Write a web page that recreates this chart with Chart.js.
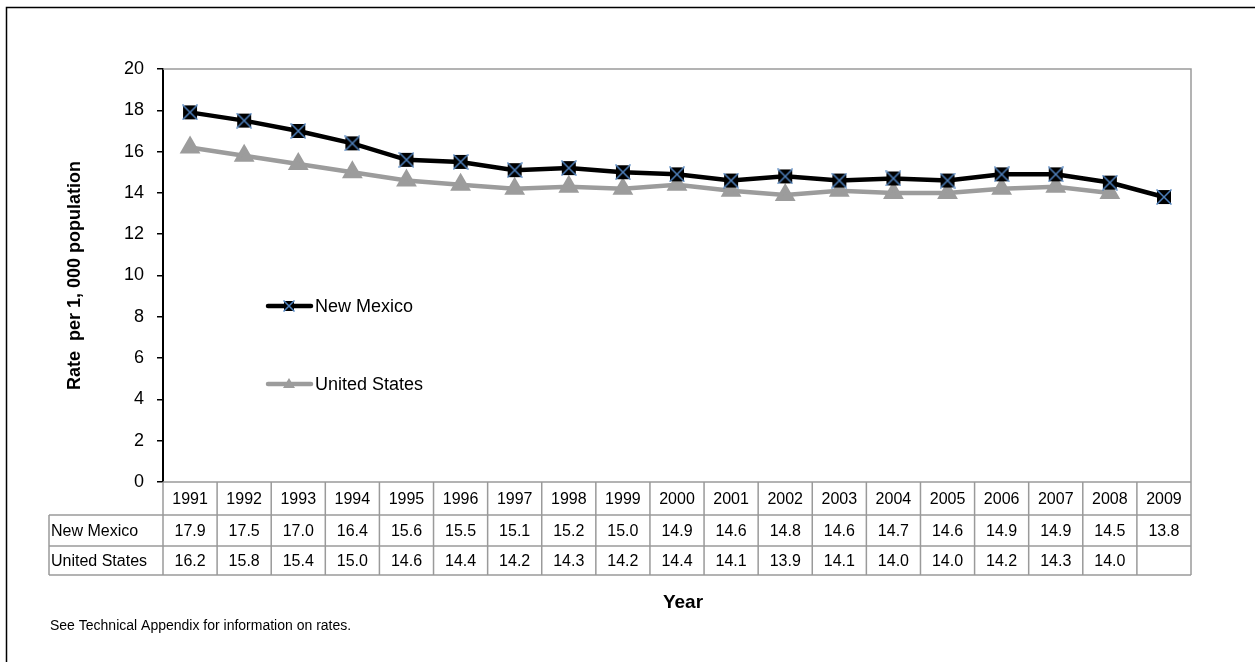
<!DOCTYPE html>
<html>
<head>
<meta charset="utf-8">
<script src="https://cdn.jsdelivr.net/npm/chart.js@4.4.1/dist/chart.umd.min.js"></script>
<style>
  body { margin: 0; background: #fff; }
  canvas { display: block; }
</style>
</head>
<body>
<canvas id="rates" width="1255" height="662"></canvas>
<script>
    "use strict";

    // data
    const years = ["1991", "1992", "1993", "1994", "1995", "1996", "1997", "1998", "1999", "2000",
        "2001", "2002", "2003", "2004", "2005", "2006", "2007", "2008", "2009"];
    const newMexico = [17.9, 17.5, 17.0, 16.4, 15.6, 15.5, 15.1, 15.2, 15.0, 14.9,
        14.6, 14.8, 14.6, 14.7, 14.6, 14.9, 14.9, 14.5, 13.8];
    const unitedStates = [16.2, 15.8, 15.4, 15.0, 14.6, 14.4, 14.2, 14.3, 14.2, 14.4,
        14.1, 13.9, 14.1, 14.0, 14.0, 14.2, 14.3, 14.0, null];
    const seriesNames = ["New Mexico", "United States"];

    const FONT = "'Liberation Sans', Arial, sans-serif";
    const GRID = "#9a9a9a";

    // black square with a blue x on top, like the excel marker
    function makeMarker(size) {
        const c = document.createElement("canvas");
        c.width = size; c.height = size;
        const g = c.getContext("2d");
        g.fillStyle = "#000";
        g.fillRect(1, 1, size - 2, size - 2);
        g.strokeStyle = "#4f81bd";
        g.lineWidth = 1.5;
        g.beginPath();
        g.moveTo(0.5, 0.5); g.lineTo(size - 0.5, size - 0.5);
        g.moveTo(size - 0.5, 0.5); g.lineTo(0.5, size - 0.5);
        g.stroke();
        return c;
    }
    const nmMarker = makeMarker(16);
    const nmMarkerSmall = makeMarker(12);

    // frame, plot border, data table, legend, footnote
    const extras = {
        id: "extras",
        beforeDraw(chart) {
            const ctx = chart.ctx;
            ctx.save();
            ctx.strokeStyle = "#000";
            ctx.lineWidth = 1.5;
            ctx.strokeRect(6.5, 7.5, 1400, 800);
            ctx.restore();
        },
        afterDraw(chart) {
            const ctx = chart.ctx;
            const a = chart.chartArea;
            const x = chart.scales.x;
            ctx.save();

            // plot top + right border
            ctx.strokeStyle = GRID;
            ctx.lineWidth = 1.5;
            ctx.beginPath();
            ctx.moveTo(a.left, a.top);
            ctx.lineTo(a.right, a.top);
            ctx.lineTo(a.right, a.bottom);
            ctx.stroke();

            // data table
            const colW = (a.right - a.left) / years.length;
            const rows = [a.bottom, a.bottom + 33, a.bottom + 64, a.bottom + 93];
            const labelLeft = 49;
            ctx.beginPath();
            for (let i = 0; i < rows.length; i++) {
                ctx.moveTo(i === 0 ? a.left : labelLeft, rows[i]);
                ctx.lineTo(a.right, rows[i]);
            }
            ctx.moveTo(labelLeft, rows[1]);
            ctx.lineTo(labelLeft, rows[3]);
            for (let i = 0; i <= years.length; i++) {
                const cx = a.left + colW * i;
                ctx.moveTo(cx, rows[0]);
                ctx.lineTo(cx, rows[3]);
            }
            ctx.stroke();

            ctx.fillStyle = "#000";
            ctx.font = "16px " + FONT;
            ctx.textBaseline = "middle";
            ctx.textAlign = "center";
            const tableRows = [newMexico, unitedStates];
            years.forEach(function (y, i) {
                const cx = x.getPixelForValue(i);
                ctx.fillText(y, cx, (rows[0] + rows[1]) / 2 + 1);
                tableRows.forEach(function (vals, r) {
                    if (vals[i] !== null) {
                        ctx.fillText(vals[i].toFixed(1), cx, (rows[r + 1] + rows[r + 2]) / 2 + 1);
                    }
                });
            });
            ctx.textAlign = "left";
            seriesNames.forEach(function (n, r) {
                ctx.fillText(n, labelLeft + 2, (rows[r + 1] + rows[r + 2]) / 2 + 1);
            });

            // x title
            ctx.textAlign = "center";
            ctx.font = "bold 19px " + FONT;
            ctx.fillText("Year", (a.left + a.right) / 2 + 6, 603);

            // footnote
            ctx.textAlign = "left";
            ctx.font = "14px " + FONT;
            ctx.fillText("See Technical Appendix for information on rates.", 50, 626);

            // legend inside the plot
            const legendY = [306, 384];
            chart.data.datasets.forEach(function (ds, i) {
                const ly = legendY[i];
                ctx.strokeStyle = ds.borderColor;
                ctx.lineWidth = 4.5;
                ctx.lineCap = "round";
                ctx.beginPath();
                ctx.moveTo(268, ly);
                ctx.lineTo(311, ly);
                ctx.stroke();
                if (i === 0) {
                    ctx.drawImage(nmMarkerSmall, 289 - 6, ly - 6);
                } else {
                    ctx.fillStyle = ds.pointBackgroundColor;
                    ctx.beginPath();
                    ctx.moveTo(289, ly - 6);
                    ctx.lineTo(295, ly + 4);
                    ctx.lineTo(283, ly + 4);
                    ctx.closePath();
                    ctx.fill();
                }
                ctx.fillStyle = "#000";
                ctx.font = "18px " + FONT;
                ctx.fillText(ds.label, 315, ly + 1);
            });
            ctx.restore();
        }
    };

    const ctx = document.getElementById("rates");
    const myChart = new Chart(ctx, {
        type: "line",
        data: {
            labels: years,
            datasets: [{
                label: seriesNames[0],
                data: newMexico,
                borderColor: "#000000",
                borderWidth: 4.5,
                pointStyle: nmMarker,
                pointBackgroundColor: "#000000",
                pointRadius: 8,
                tension: 0
            }, {
                label: seriesNames[1],
                data: unitedStates,
                borderColor: "#9c9c9c",
                borderWidth: 4.5,
                pointStyle: "triangle",
                pointBackgroundColor: "#9c9c9c",
                pointBorderColor: "#9c9c9c",
                pointRadius: 7.5,
                tension: 0
            }]
        },
        options: {
            responsive: false,
            animation: false,
            layout: {
                padding: { left: 0, top: 69, right: 64, bottom: 180 }
            },
            plugins: {
                legend: { display: false },
                tooltip: { enabled: false }
            },
            scales: {
                x: {
                    type: "category",
                    offset: true,
                    display: false
                },
                y: {
                    min: 0,
                    max: 20,
                    ticks: {
                        stepSize: 2,
                        color: "#000",
                        padding: 13,
                        font: { family: FONT, size: 18 }
                    },
                    grid: {
                        drawOnChartArea: false,
                        tickLength: 6,
                        color: "#000",
                        lineWidth: 1.5
                    },
                    border: { color: "#000", width: 2 },
                    title: {
                        display: true,
                        text: "Rate  per 1, 000 population",
                        color: "#000",
                        font: { family: FONT, size: 18, weight: "bold" },
                        padding: { top: 64, bottom: 0 }
                    },
                    afterFit: function (scale) {
                        scale.width = 163;
                    }
                }
            }
        },
        plugins: [extras]
    });
</script>
</body>
</html>
